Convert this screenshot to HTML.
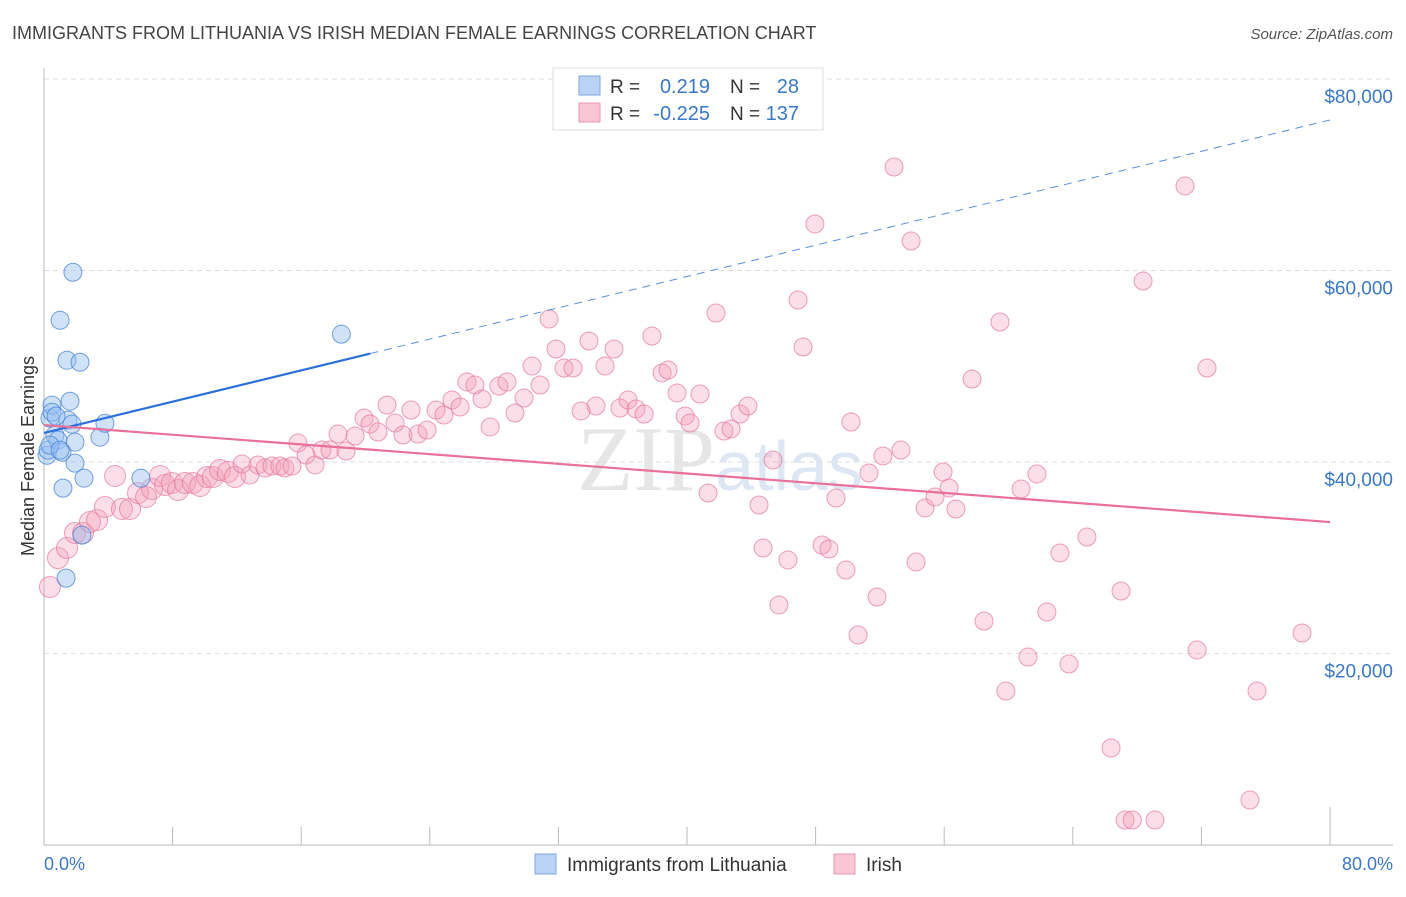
<!DOCTYPE html>
<html><head><meta charset="utf-8"><style>
body{margin:0;background:#fff;font-family:"Liberation Sans",sans-serif;}
svg text{font-family:"Liberation Sans",sans-serif;}
</style></head><body>
<svg id="chart" width="1406" height="892" viewBox="0 0 1406 892" xmlns="http://www.w3.org/2000/svg">
<text x="12" y="39" font-size="18" fill="#444">IMMIGRANTS FROM LITHUANIA VS IRISH MEDIAN FEMALE EARNINGS CORRELATION CHART</text>
<text x="1393" y="39" font-size="15" fill="#555" font-style="italic" text-anchor="end">Source: ZipAtlas.com</text>
<text x="720" y="490" font-size="92" fill="#e6e6e6" text-anchor="middle" font-family="Liberation Serif"><tspan font-family="Liberation Serif">ZIP</tspan><tspan font-family="Liberation Sans" fill="#dde7f4" font-size="70">atlas</tspan></text>
<g id="grid"></g>
<g id="axes"></g>
<g id="pts"></g>
<g id="trends"></g>
<text transform="translate(34,456) rotate(-90)" font-size="18" fill="#333" text-anchor="middle">Median Female Earnings</text>
<text x="44" y="870" font-size="18" fill="#3a78c8">0.0%</text>
<text x="1393" y="870" font-size="18" fill="#3a78c8" text-anchor="end">80.0%</text>
<g>
<rect x="553" y="68" width="270" height="62" fill="#fff" stroke="#ddd"/>
<rect x="579" y="76" width="21" height="19" fill="#b9d3f4" stroke="#7fa9e3"/>
<rect x="579" y="103" width="21" height="19" fill="#f9c6d5" stroke="#ea97b1"/>
<text x="610" y="93" font-size="19" fill="#333">R =</text>
<text x="710" y="93" font-size="20" fill="#3a78c8" text-anchor="end">0.219</text>
<text x="730" y="93" font-size="19" fill="#333">N =</text>
<text x="799" y="93" font-size="20" fill="#3a78c8" text-anchor="end">28</text>
<text x="610" y="120" font-size="19" fill="#333">R =</text>
<text x="710" y="120" font-size="20" fill="#3a78c8" text-anchor="end">-0.225</text>
<text x="730" y="120" font-size="19" fill="#333">N =</text>
<text x="799" y="120" font-size="20" fill="#3a78c8" text-anchor="end">137</text>
</g>
<g>
<rect x="535" y="854" width="21" height="20" fill="#b9d3f4" stroke="#7fa9e3"/>
<text x="567" y="871" font-size="19" fill="#333">Immigrants from Lithuania</text>
<rect x="834" y="854" width="21" height="20" fill="#f9c6d5" stroke="#ea97b1"/>
<text x="866" y="871" font-size="19" fill="#333">Irish</text>
</g>
</svg>
<script>
const yTicks=[20000,40000,60000,80000];
const yTickLabels=["$20,000","$40,000","$60,000","$80,000"];
const xTicks=[0,8,16,24,32,40,48,56,64,72,80];
const blueX=[0.19,0.25,0.37,0.5,0.5,0.68,0.87,1.0,1.12,1.18,1.37,1.43,1.49,1.62,1.74,1.8,1.93,1.93,2.24,2.36,2.49,3.48,3.79,6.03,18.5,0.37,0.75,1.0];
const blueY=[40700,41240,44580,45940,45200,42800,42280,54800,41030,37270,27870,50630,44370,46350,43950,59820,42070,39880,50420,32360,38310,42590,44050,38310,53350,41760,44790,41240];
const pinkX=[0.37,0.87,1.43,1.93,2.43,2.86,3.3,3.79,4.42,4.85,5.35,5.85,6.35,6.72,7.22,7.53,7.96,8.34,8.77,9.27,9.71,10.14,10.51,10.95,11.45,11.88,12.32,12.81,13.31,13.75,14.18,14.68,14.99,15.43,15.8,16.3,16.86,17.29,17.79,18.29,18.79,19.35,19.91,20.28,20.78,21.34,21.84,22.33,22.83,23.27,23.83,24.39,24.88,25.38,25.88,26.31,26.81,27.25,27.75,28.3,28.8,29.3,29.86,30.36,30.86,31.42,31.85,32.35,32.91,33.41,33.9,34.34,34.9,35.46,35.83,36.33,36.83,37.33,37.82,38.45,38.82,39.38,39.88,40.19,40.81,41.31,41.8,42.3,42.74,43.3,43.79,44.48,44.73,45.35,45.72,46.28,46.91,47.22,47.96,48.4,48.83,49.27,49.89,50.2,50.64,51.32,51.82,52.19,52.88,53.31,53.94,54.25,54.81,55.43,55.93,56.3,56.73,57.73,58.48,59.47,59.84,60.78,61.21,61.77,62.39,63.2,63.76,64.88,66.38,67,67.25,68.37,69.11,70.98,71.73,72.35,75.02,75.46,78.26,67.7];
const pinkY=[26950,29970,31020,32590,32590,33730,33940,35300,38540,35090,35090,36760,36350,37180,38540,37600,37810,37080,37810,37810,37490,38430,38430,39170,38960,38430,39790,38640,39690,39370,39580,39580,39370,39580,41980,40730,39690,41250,41250,42920,41150,42710,44600,43970,43130,45950,44070,42820,45430,42920,43340,45430,44910,46480,45740,48360,48040,46580,43660,47940,48360,45120,46680,50030,48040,54930,51800,49820,49820,45330,52640,45850,50030,51800,45640,46480,45540,45010,53160,49300,49610,47210,44810,44070,47100,36760,55560,43240,43450,45010,45850,35510,31020,40210,25070,29770,56920,52010,64860,31330,30910,36240,28720,44180,21930,38850,25900,40630,70810,41250,63080,29560,35200,36350,38960,37290,35090,48670,23390,54620,16080,37180,19630,38750,24330,30500,18900,32170,10130,26530,2610,58900,2610,68830,20370,49820,4700,16080,22140,2610];
const blueTrend=[43030,75720];
const pinkTrend=[43860,33730];
const blueSolidEnd=20.3;

const NS="http://www.w3.org/2000/svg";
const X0=44,X1=1330,Y0=845,PXPER=191.5/20000;
const sx=v=>X0+(X1-X0)*v/80;
const sy=v=>Y0-v*PXPER;
function mk(tag,attrs,parent){const e=document.createElementNS(NS,tag);for(const k in attrs)e.setAttribute(k,attrs[k]);parent.appendChild(e);return e;}
const grid=document.getElementById('grid'),axes=document.getElementById('axes'),pts=document.getElementById('pts'),tr=document.getElementById('trends');
yTicks.forEach((t,i)=>{
  const l=mk('line',{x1:44,x2:1393,y1:sy(t),y2:sy(t),stroke:'#ddd','stroke-dasharray':'5,4'},grid);
  
  
  const tx=mk('text',{x:1393,y:sy(t)+24,'font-size':19,fill:'#3a78c8','text-anchor':'end'},grid);
  tx.textContent=yTickLabels[i];
  
  
});
const ya=mk('line',{x1:44,x2:44,y1:68,y2:845,stroke:'#bbb'},axes);


const xa=mk('line',{x1:44,x2:1393,y1:845,y2:845,stroke:'#bbb'},axes);


xTicks.forEach((t,i)=>{
  const tk=mk('line',{x1:sx(t),x2:sx(t),y1:i==xTicks.length-1?807:827,y2:845,stroke:'#bbb'},axes);
  
  
});
pinkX.forEach((x,i)=>{
  const c=mk('circle',{cx:sx(x),cy:sy(pinkY[i]),r:(x<12?10.5:9),fill:'rgba(244,160,186,0.35)',stroke:'rgba(230,120,155,0.7)','stroke-width':1},pts);
  
  
});
blueX.forEach((x,i)=>{
  const c=mk('circle',{cx:sx(x),cy:sy(blueY[i]),r:9,fill:'rgba(150,190,240,0.45)',stroke:'rgba(70,130,215,0.75)','stroke-width':1},pts);
  
  
});
const bAt=x=>blueTrend[0]+(blueTrend[1]-blueTrend[0])*x/80;
const b1=mk('line',{x1:sx(0),y1:sy(bAt(0)),x2:sx(blueSolidEnd),y2:sy(bAt(blueSolidEnd)),stroke:'#2a6fdb','stroke-width':2.2},tr);


const b2=mk('line',{x1:sx(blueSolidEnd),y1:sy(bAt(blueSolidEnd)),x2:sx(80),y2:sy(bAt(80)),stroke:'#5a8fe0','stroke-width':1,'stroke-dasharray':'8,6'},tr);


const p1=mk('line',{x1:sx(0),y1:sy(pinkTrend[0]),x2:sx(80),y2:sy(pinkTrend[1]),stroke:'#e8709a','stroke-width':2.2},tr);


</script>
</body></html>
